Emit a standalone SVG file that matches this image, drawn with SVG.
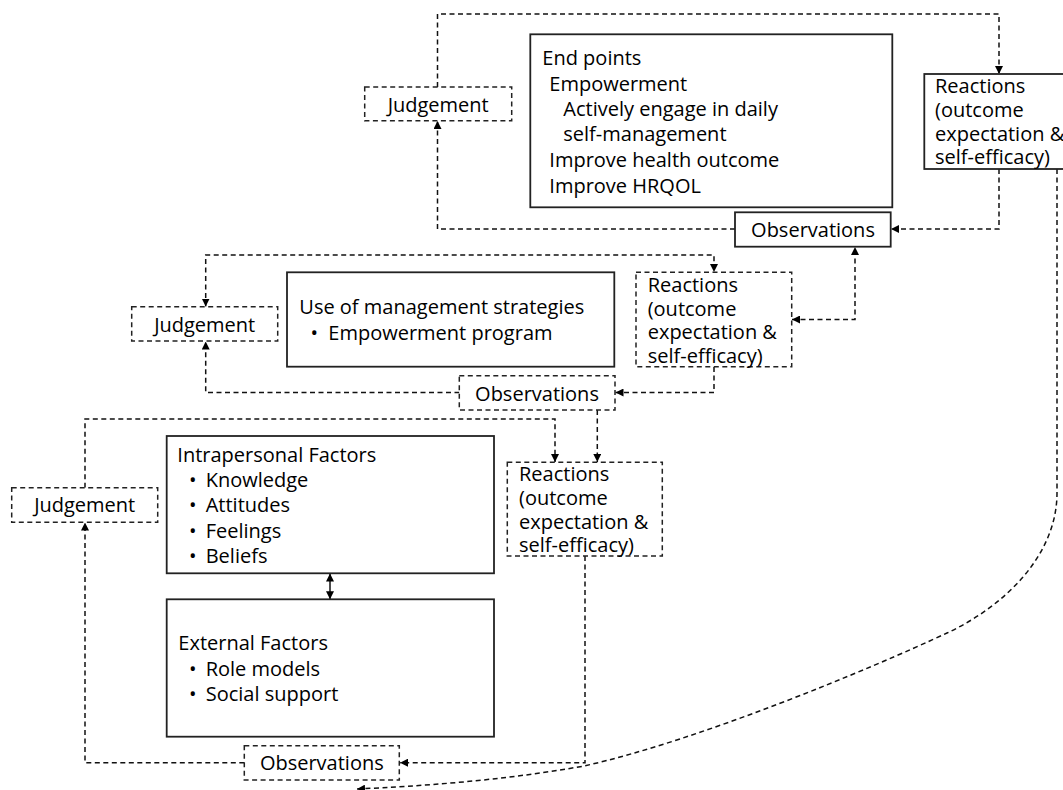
<svg xmlns="http://www.w3.org/2000/svg" width="1063" height="790" viewBox="0 0 1063 790">
<defs>
<marker id="ah" viewBox="0 0 10 10" refX="10" refY="5" markerWidth="8" markerHeight="8" markerUnits="userSpaceOnUse" orient="auto-start-reverse">
<path d="M0,0 L10,5 L0,10 z" fill="#000"/>
</marker>
<style>
text{font-family:"Open Sans","Noto Sans","Liberation Sans",sans-serif;font-size:20px;fill:#000}
.solid{fill:#fff;stroke:#222;stroke-width:1.8}
.dash{fill:#fff;stroke:#222;stroke-width:1.5;stroke-dasharray:5 3.5}
.mid{text-anchor:middle}
#connectors path{fill:none;stroke:#111;stroke-width:1.5;stroke-dasharray:5 3.5}
</style>
</defs>
<rect width="1063" height="790" fill="#fff"/>

<g id="connectors">
<path d="M437.5 87 V14 H999 V74" marker-end="url(#ah)"/>
<path d="M735 229 H437.5 V121" marker-end="url(#ah)"/>
<path d="M999 169 V229 H891" marker-end="url(#ah)"/>
<path d="M792 319.5 H855 V247" marker-start="url(#ah)" marker-end="url(#ah)"/>
<path d="M1057 169 V493 C1057 555 1005 606 947 633 C870 669 700 740 584 766 C500 781 420 786 357 789" marker-end="url(#ah)"/>
<path d="M205.7 306.5 V255 H714 V272" marker-start="url(#ah)" marker-end="url(#ah)"/>
<path d="M459.5 392.5 H205.7 V341.5" marker-end="url(#ah)"/>
<path d="M714 367 V392.5 H615.5" marker-end="url(#ah)"/>
<path d="M85 487.7 V419 H555 V462" marker-end="url(#ah)"/>
<path d="M597.3 410 V462" marker-end="url(#ah)"/>
<path d="M244.3 762.7 H85 V522.5" marker-end="url(#ah)"/>
<path d="M585 556 V762.7 H400" marker-end="url(#ah)"/>
<path d="M330 573.5 V599.3" marker-start="url(#ah)" marker-end="url(#ah)" style="stroke-dasharray:none"/>
</g>

<g id="judgement-top">
<rect class="dash" x="364.7" y="87" width="147" height="33.7"/>
<text class="mid" x="438.2" y="112">Judgement</text>
</g>
<g id="endpoints">
<rect class="solid" x="530.3" y="34.3" width="362" height="173"/>
<text x="542.3" y="65">End points</text>
<text x="549.3" y="90.7">Empowerment</text>
<text x="563.3" y="116">Actively engage in daily</text>
<text x="563.3" y="141">self-management</text>
<text x="549.3" y="166.7">Improve health outcome</text>
<text x="549.3" y="192.5">Improve HRQOL</text>
</g>
<g id="reactions-top">
<rect class="solid" x="924.3" y="74" width="160" height="95"/>
<text x="935" y="93.3">Reactions</text>
<text x="935" y="117">(outcome</text>
<text x="935" y="140.5">expectation &amp;</text>
<text x="935" y="163.5">self-efficacy)</text>
</g>
<g id="observations-top">
<rect class="solid" x="735" y="212.3" width="155.7" height="34.4"/>
<text class="mid" x="813" y="236.7">Observations</text>
</g>

<g id="judgement-mid">
<rect class="dash" x="131.7" y="306.7" width="146" height="34.3"/>
<text class="mid" x="204.7" y="331.7">Judgement</text>
</g>
<g id="strategies">
<rect class="solid" x="287" y="272.3" width="327.3" height="94.4"/>
<text x="299.3" y="314">Use of management strategies</text>
<text x="310.5" y="340">•</text>
<text x="328.3" y="340">Empowerment program</text>
</g>
<g id="reactions-mid">
<rect class="dash" x="636" y="272.3" width="155.7" height="94.4"/>
<text x="647.7" y="291.7">Reactions</text>
<text x="647.7" y="316">(outcome</text>
<text x="647.7" y="339.3">expectation &amp;</text>
<text x="647.7" y="362.7">self-efficacy)</text>
</g>
<g id="observations-mid">
<rect class="dash" x="459.3" y="375.7" width="155.7" height="34.3"/>
<text class="mid" x="537" y="401">Observations</text>
</g>

<g id="judgement-bottom">
<rect class="dash" x="11.7" y="487.7" width="146" height="34.6"/>
<text class="mid" x="84.7" y="512.3">Judgement</text>
</g>
<g id="intrapersonal">
<rect class="solid" x="166.7" y="436" width="327.3" height="137.3"/>
<text x="177.3" y="461.7">Intrapersonal Factors</text>
<text x="189" y="487.3">•</text><text x="205.7" y="487.3">Knowledge</text>
<text x="189" y="511.7">•</text><text x="205.7" y="511.7">Attitudes</text>
<text x="189" y="537.5">•</text><text x="205.7" y="537.5">Feelings</text>
<text x="189" y="563">•</text><text x="205.7" y="563">Beliefs</text>
</g>
<g id="external">
<rect class="solid" x="166.7" y="599.3" width="327.3" height="137.4"/>
<text x="178.3" y="650">External Factors</text>
<text x="189" y="676">•</text><text x="205.7" y="676">Role models</text>
<text x="189" y="701">•</text><text x="205.7" y="701">Social support</text>
</g>
<g id="reactions-bottom">
<rect class="dash" x="507.3" y="462.3" width="155" height="93.7"/>
<text x="519" y="481">Reactions</text>
<text x="519" y="505">(outcome</text>
<text x="519" y="529">expectation &amp;</text>
<text x="519" y="551.7">self-efficacy)</text>
</g>
<g id="observations-bottom">
<rect class="dash" x="244.3" y="745.7" width="155" height="34.3"/>
<text class="mid" x="321.8" y="770">Observations</text>
</g>
</svg>
